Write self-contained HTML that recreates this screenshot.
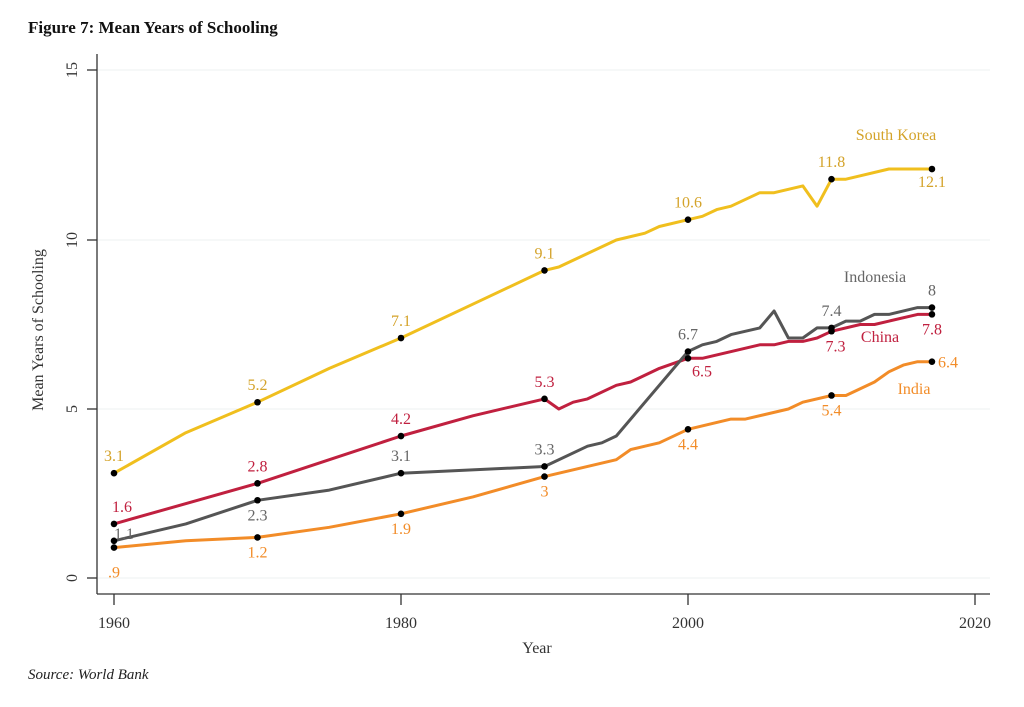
<!DOCTYPE html>
<html><head><meta charset="utf-8"><style>
body{margin:0;background:#fff;}
svg{display:block;font-family:"Liberation Serif",serif;}
</style></head><body>
<svg id="s" width="1024" height="707" viewBox="0 0 1024 707" xmlns="http://www.w3.org/2000/svg">
<text x="28" y="33" font-size="17" font-weight="bold" fill="#111">Figure 7: Mean Years of Schooling</text>
<g stroke="#eef2f2" stroke-width="1">
<line x1="97" x2="990" y1="409" y2="409"/><line x1="97" x2="990" y1="240" y2="240"/><line x1="97" x2="990" y1="70" y2="70"/><line x1="97" x2="990" y1="578" y2="578"/>
</g>
<g stroke="#333" stroke-width="1.3" fill="none">
<line x1="97" y1="54" x2="97" y2="594"/><line x1="97" y1="594" x2="990" y2="594"/>
<line x1="87" x2="97" y1="578" y2="578"/><line x1="87" x2="97" y1="409" y2="409"/><line x1="87" x2="97" y1="240" y2="240"/><line x1="87" x2="97" y1="70" y2="70"/>
<line x1="114" x2="114" y1="594" y2="605"/><line x1="401" x2="401" y1="594" y2="605"/><line x1="688" x2="688" y1="594" y2="605"/><line x1="975" x2="975" y1="594" y2="605"/>
</g>
<g font-size="16" fill="#333" text-anchor="middle">
<text transform="translate(72,578) rotate(-90)" dy="5">0</text>
<text transform="translate(72,409) rotate(-90)" dy="5">5</text>
<text transform="translate(72,240) rotate(-90)" dy="5">10</text>
<text transform="translate(72,70) rotate(-90)" dy="5">15</text>
<text x="114" y="628">1960</text><text x="401" y="628">1980</text><text x="688" y="628">2000</text><text x="975" y="628">2020</text>
<text x="537" y="653">Year</text>
<text transform="translate(43,330) rotate(-90)">Mean Years of Schooling</text>
</g>
<text x="28" y="679" font-size="15" font-style="italic" fill="#222">Source: World Bank</text>
<g id="g"></g>
</svg>
<script>
var X=function(y){return 114+(y-1960)*14.35},Y=function(v){return 578-v*33.8};
var S=[
{c:"#f0bf1e",t:"#d4a32a",d:[[1960,3.1],[1965,4.3],[1970,5.2],[1975,6.2],[1980,7.1],[1985,8.1],[1990,9.1],[1991,9.2],[1995,10.0],[1997,10.2],[1998,10.4],[2000,10.6],[2001,10.7],[2002,10.9],[2003,11.0],[2005,11.4],[2006,11.4],[2008,11.6],[2009,11.0],[2010,11.8],[2011,11.8],[2012,11.9],[2014,12.1],[2017,12.1]],
 L:[[1960,"3.1",0,-12],[1970,"5.2",0,-12],[1980,"7.1",0,-12],[1990,"9.1",0,-12],[2000,"10.6",0,-12],[2010,"11.8",0,-12],[2017,"12.1",0,18]],n:["South Korea",896,140]},
{c:"#c0203f",t:"#c0203f",d:[[1960,1.6],[1970,2.8],[1975,3.5],[1980,4.2],[1985,4.8],[1990,5.3],[1991,5.0],[1992,5.2],[1993,5.3],[1995,5.7],[1996,5.8],[1998,6.2],[2000,6.5],[2001,6.5],[2005,6.9],[2006,6.9],[2007,7.0],[2008,7.0],[2009,7.1],[2010,7.3],[2012,7.5],[2013,7.5],[2016,7.8],[2017,7.8]],
 L:[[1960,"1.6",8,-12],[1970,"2.8",0,-12],[1980,"4.2",0,-12],[1990,"5.3",0,-12],[2000,"6.5",14,18],[2010,"7.3",4,20],[2017,"7.8",0,20]],n:["China",880,342]},
{c:"#555555",t:"#666",d:[[1960,1.1],[1965,1.6],[1970,2.3],[1975,2.6],[1980,3.1],[1990,3.3],[1993,3.9],[1994,4.0],[1995,4.2],[2000,6.7],[2001,6.9],[2002,7.0],[2003,7.2],[2005,7.4],[2006,7.9],[2007,7.1],[2008,7.1],[2009,7.4],[2010,7.4],[2011,7.6],[2012,7.6],[2013,7.8],[2014,7.8],[2016,8.0],[2017,8.0]],
 L:[[1960,"1.1",10,-2],[1970,"2.3",0,20],[1980,"3.1",0,-12],[1990,"3.3",0,-12],[2000,"6.7",0,-12],[2010,"7.4",0,-12],[2017,"8",0,-12]],n:["Indonesia",875,282]},
{c:"#f28c28",t:"#f28c28",d:[[1960,0.9],[1965,1.1],[1970,1.2],[1975,1.5],[1980,1.9],[1985,2.4],[1990,3.0],[1995,3.5],[1996,3.8],[1997,3.9],[1998,4.0],[2000,4.4],[2003,4.7],[2004,4.7],[2007,5.0],[2008,5.2],[2010,5.4],[2011,5.4],[2013,5.8],[2014,6.1],[2015,6.3],[2016,6.4],[2017,6.4]],
 L:[[1960,".9",0,30],[1970,"1.2",0,20],[1980,"1.9",0,20],[1990,"3",0,20],[2000,"4.4",0,20],[2010,"5.4",0,20],[2017,"6.4",16,6]],n:["India",914,394]}
];
var h="";
S.forEach(function(s){h+='<polyline fill="none" stroke="'+s.c+'" stroke-width="3" stroke-linejoin="round" points="'+s.d.map(function(p){return X(p[0]).toFixed(1)+","+Y(p[1]).toFixed(1)}).join(" ")+'"/>';});
S.forEach(function(s){var m={};s.d.forEach(function(p){m[p[0]]=p[1]});
s.L.forEach(function(l){var x=X(l[0]),y=Y(m[l[0]]);h+='<circle cx="'+x+'" cy="'+y+'" r="3.3" fill="#000"/>';
h+='<text x="'+(x+l[2])+'" y="'+(y+l[3])+'" font-size="16" text-anchor="middle" fill="'+s.t+'">'+l[1]+'</text>';});
h+='<text x="'+s.n[1]+'" y="'+s.n[2]+'" font-size="16" text-anchor="middle" fill="'+s.t+'">'+s.n[0]+'</text>';});
document.getElementById("g").innerHTML=h;
</script>
</body></html>
